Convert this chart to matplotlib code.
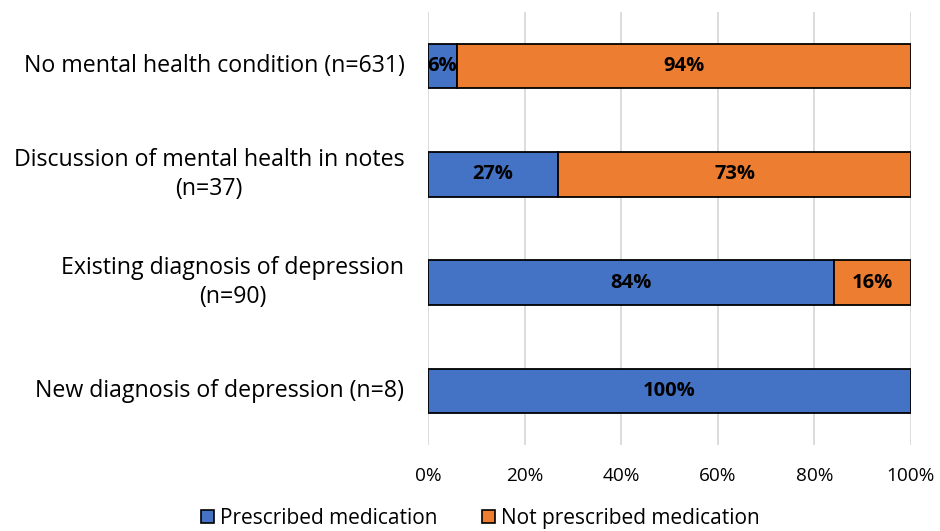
import matplotlib
matplotlib.use("Agg")
import matplotlib.pyplot as plt
from matplotlib.patches import Patch

categories = ["No mental health condition (n=631)",
              "Discussion of mental health in notes\n(n=37)",
              "Existing diagnosis of depression\n(n=90)",
              "New diagnosis of depression (n=8)"]
prescribed = [6, 27, 84, 100]
not_prescribed = [94, 73, 16, 0]
series_names = ["Prescribed medication", "Not prescribed medication"]
xticks = [0, 20, 40, 60, 80, 100]
xtick_labels = ["0%", "20%", "40%", "60%", "80%", "100%"]

BLUE = "#4472C4"
ORANGE = "#ED7D31"
plt.rcParams['font.family'] = ['Open Sans', 'DejaVu Sans']

fig = plt.figure(figsize=(9.4, 5.31), dpi=100)
ax = fig.add_axes([428/940, 1-445/531, (911-428)/940, (445-12)/531])

y = list(range(len(categories)))
h = 0.41
for i, (p, n) in enumerate(zip(prescribed, not_prescribed)):
    if p > 0:
        ax.barh(i, p, height=h, color=BLUE, edgecolor="black", linewidth=1.3, zorder=3)
        ax.text(p/2, i, f"{p}%", ha="center", va="center", fontsize=14.5, fontweight="bold", zorder=4)
    if n > 0:
        ax.barh(i, n, left=p, height=h, color=ORANGE, edgecolor="black", linewidth=1.3, zorder=3)
        ax.text(p + n/2, i, f"{n}%", ha="center", va="center", fontsize=14.5, fontweight="bold", zorder=4)

ax.set_ylim(len(categories)-0.5, -0.5)
ax.set_xlim(0, 100)
ax.set_yticks(y)
ax.set_yticklabels([])
ax.tick_params(axis="y", length=0)
for i, c in enumerate(categories):
    ax.annotate(c, xy=(0, i), xycoords="data", xytext=(-17, 0), textcoords="offset points",
                ha="right", va="center", multialignment="center", fontsize=16.7,
                linespacing=1.3, annotation_clip=False)
ax.set_xticks(xticks)
ax.set_xticklabels(xtick_labels, fontsize=13.7)
ax.tick_params(axis="x", length=0, pad=16)
ax.grid(axis="x", color="#d9d9d9", linewidth=1.3, zorder=0)
for s in ax.spines.values():
    s.set_visible(False)

handles = [Patch(facecolor=BLUE, edgecolor="black", linewidth=1.2),
           Patch(facecolor=ORANGE, edgecolor="black", linewidth=1.2)]
fig.legend(handles, series_names, loc="lower center", bbox_to_anchor=(0.511, 0.0),
           ncol=2, frameon=False, fontsize=15, handlelength=0.6, handleheight=0.6,
           handletextpad=0.3, columnspacing=2.15, borderaxespad=0.0, borderpad=0.1)

fig.savefig("out.png", dpi=100)
